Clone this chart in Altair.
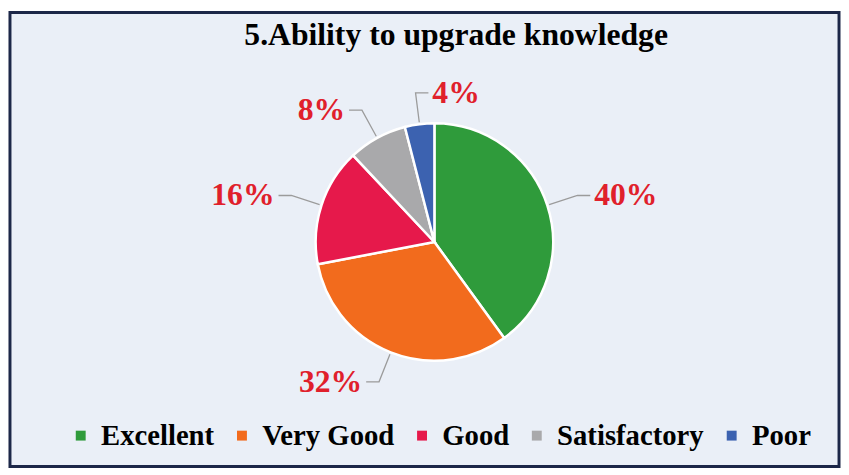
import altair as alt
import numpy as np
import pandas as pd

categories = ["Excellent", "Very Good", "Good", "Satisfactory", "Poor"]
values = [40, 32, 16, 8, 4]
colors = ["#2f9b3b", "#f26b1d", "#e6194b", "#a9a9ab", "#3c62b0"]
title_text = "5.Ability to upgrade knowledge"

W, H = 808, 350
R = 120
SERIF = "Liberation Serif"

df = pd.DataFrame({"cat": categories, "val": values, "idx": range(len(values))})
df["label"] = df["val"].astype(str) + "%"
frac = df["val"] / df["val"].sum()
end = frac.cumsum() * 2 * np.pi
start = end - frac * 2 * np.pi
mid = (start + end) / 2
sign = np.where(np.sin(mid) >= -0.15, 1, -1)

# leader lines: edge -> elbow -> horizontal tail
rows = []
for i in range(len(df)):
    a = mid.iloc[i]
    p1 = ((R + 2) * np.sin(a), (R + 2) * np.cos(a))
    p2 = ((R + 32) * np.sin(a), (R + 32) * np.cos(a))
    p3 = (p2[0] + sign[i] * 13, p2[1])
    for k, p in enumerate([p1, p2, p3]):
        rows.append({"cat": categories[i], "k": k, "x": p[0], "y": p[1]})
lines = pd.DataFrame(rows)

df["lx"] = (R + 32) * np.sin(mid) + sign * 17
df["ly"] = (R + 32) * np.cos(mid)
df["side"] = sign

xs = alt.Scale(domain=[-W / 2, W / 2])
ys = alt.Scale(domain=[-H / 2, H / 2])

frame = alt.Chart(pd.DataFrame({"a": [0]})).mark_rect(
    fill="#eaeff7", stroke="#1c2748", strokeWidth=3
).encode(
    x=alt.value(-25), x2=alt.value(W + 5),
    y=alt.value(-57), y2=alt.value(H + 52),
)

title = alt.Chart(pd.DataFrame({"t": [title_text]})).mark_text(
    font=SERIF, fontSize=32, fontWeight="bold", color="black",
    align="center", baseline="middle",
).encode(x=alt.value(W / 2 + 22), y=alt.value(-34), text="t:N")

pie = alt.Chart(df).mark_arc(outerRadius=R, stroke="white", strokeWidth=2.5).encode(
    theta=alt.Theta("val:Q", stack=True),
    order=alt.Order("idx:Q"),
    color=alt.Color(
        "cat:N",
        scale=alt.Scale(domain=categories, range=colors),
        sort=categories,
        legend=alt.Legend(
            title=None, orient="none", direction="horizontal",
            legendX=32, legendY=356,
            symbolType="square", symbolSize=100, symbolStrokeWidth=0,
            labelFont=SERIF, labelFontSize=29, labelFontWeight="bold",
            labelColor="black", labelLimit=400, labelOffset=6, columnPadding=13,
        ),
    ),
)

leader = alt.Chart(lines).mark_line(color="#9b9b9b", strokeWidth=1.3).encode(
    x=alt.X("x:Q", scale=xs, axis=None),
    y=alt.Y("y:Q", scale=ys, axis=None),
    detail="cat:N",
    order="k:Q",
)

def label_layer(side, align):
    return alt.Chart(df).transform_filter(alt.datum.side == side).mark_text(
        font=SERIF, fontSize=32, fontWeight="bold", color="#e0202b",
        align=align, baseline="middle",
    ).encode(
        x=alt.X("lx:Q", scale=xs, axis=None),
        y=alt.Y("ly:Q", scale=ys, axis=None),
        text="label:N",
    )

chart = alt.layer(
    frame, title, pie, leader, label_layer(1, "left"), label_layer(-1, "right")
).properties(
    width=W, height=H,
    padding=0,
).configure_view(stroke=None).configure(background="#ffffff")

chart.save("out.html", embed_options={"renderer": "svg", "actions": False})
